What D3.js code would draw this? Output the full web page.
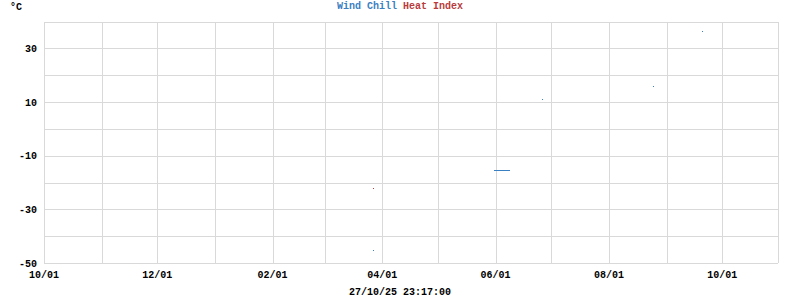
<!DOCTYPE html>
<html><head><meta charset="utf-8">
<script src="https://cdn.jsdelivr.net/npm/d3@7"></script>
<style>body{margin:0;background:#fff}svg{display:block}text{font-family:"Liberation Mono","DejaVu Sans Mono",monospace;font-weight:bold;font-size:10px}</style>
</head><body><svg id="c" width="800" height="300"></svg>
<script>
// data
const windChillDates = ["2025-03-27","2025-05-31","2025-06-09","2025-06-26","2025-08-25","2025-09-20"];
const windChillValues = [-45.3, -15.5, -15.5, 11.3, 15.8, 36.6];
const windChillSegment = [0, 1, 1, 2, 3, 4]; // segment id: consecutive equal ids are joined
const heatIndexDates = ["2025-03-27"];
const heatIndexValues = [-22.1];
const heatIndexSegment = [0];
const yTickLabels = [30, 10, -10, -30, -50];
const xTickLabels = ["10/01","12/01","02/01","04/01","06/01","08/01","10/01"];
const seriesNames = ["Wind Chill", "Heat Index"];
const seriesColors = ["#3a7fc2", "#b83c3c"];
const timestamp = "27/10/25 23:17:00";
const unitLabel = "°C";

const svg = d3.select("#c");
const L = 44, R = 778, T = 21.5, B = 263;
const x = d3.scaleUtc().domain([new Date(Date.UTC(2024,9,1)), new Date(Date.UTC(2025,9,31))]).range([L, R]);
const y = d3.scaleLinear().domain([-50, 40]).range([B, T]);
const grid = "#d9d9d9";
const g = svg.append("g").attr("shape-rendering","crispEdges");
const px = v => Math.round(v) + 0.5;

// horizontal grid
d3.range(-50, 41, 10).forEach(v => {
  g.append("line").attr("x1", L).attr("x2", R).attr("y1", px(y(v))).attr("y2", px(y(v))).attr("stroke", grid);
});
// vertical grid monthly
const months = d3.utcMonth.range(new Date(Date.UTC(2024,9,1)), new Date(Date.UTC(2025,9,2)));
months.forEach(m => {
  g.append("line").attr("x1", px(x(m))).attr("x2", px(x(m))).attr("y1", T).attr("y2", B).attr("stroke", grid);
});
g.append("line").attr("x1", px(L)).attr("x2", px(L)).attr("y1", T).attr("y2", B).attr("stroke", grid);
g.append("line").attr("x1", px(R)).attr("x2", px(R)).attr("y1", T).attr("y2", B).attr("stroke", grid);

// y labels
yTickLabels.forEach(v => {
  svg.append("text").attr("x", 37).attr("y", y(v)).attr("dy", "0.35em").attr("text-anchor","end").attr("fill","#000").text(v);
});
// x labels (every second month starting at 10/01)
const labelDates = months.filter((m, i) => i % 2 === 0);
labelDates.forEach((d, i) => {
  svg.append("text").attr("x", x(d)).attr("y", 278).attr("text-anchor","middle").attr("fill","#000").text(xTickLabels[i]);
});
svg.append("text").attr("x", 400).attr("y", 295).attr("text-anchor","middle").attr("fill","#000").text(timestamp);
svg.append("text").attr("x", 10).attr("y", 10).attr("fill","#000").text(unitLabel);

// legend title
const title = svg.append("text").attr("x", 400).attr("y", 9).attr("text-anchor","middle");
title.append("tspan").attr("fill", seriesColors[0]).text(seriesNames[0]);
title.append("tspan").text(" ");
title.append("tspan").attr("fill", seriesColors[1]).text(seriesNames[1]);

// series
function drawSeries(dates, values, segs, color) {
  const pts = dates.map((d, i) => ({d: new Date(d + "T00:00:00Z"), v: values[i], s: segs[i]}));
  const groups = d3.groups(pts, p => p.s);
  const line = d3.line().x(p => x(p.d)).y(p => px(y(p.v)));
  groups.forEach(([, arr]) => {
    if (arr.length > 1) {
      svg.append("path").attr("d", line(arr)).attr("fill","none").attr("stroke", color).attr("stroke-width",1).attr("shape-rendering","crispEdges");
    } else {
      svg.append("rect").attr("x", Math.round(x(arr[0].d))).attr("y", Math.round(y(arr[0].v))).attr("width",1).attr("height",1).attr("fill", color);
    }
  });
}
drawSeries(windChillDates, windChillValues, windChillSegment, seriesColors[0]);
drawSeries(heatIndexDates, heatIndexValues, heatIndexSegment, seriesColors[1]);
</script></body></html>
